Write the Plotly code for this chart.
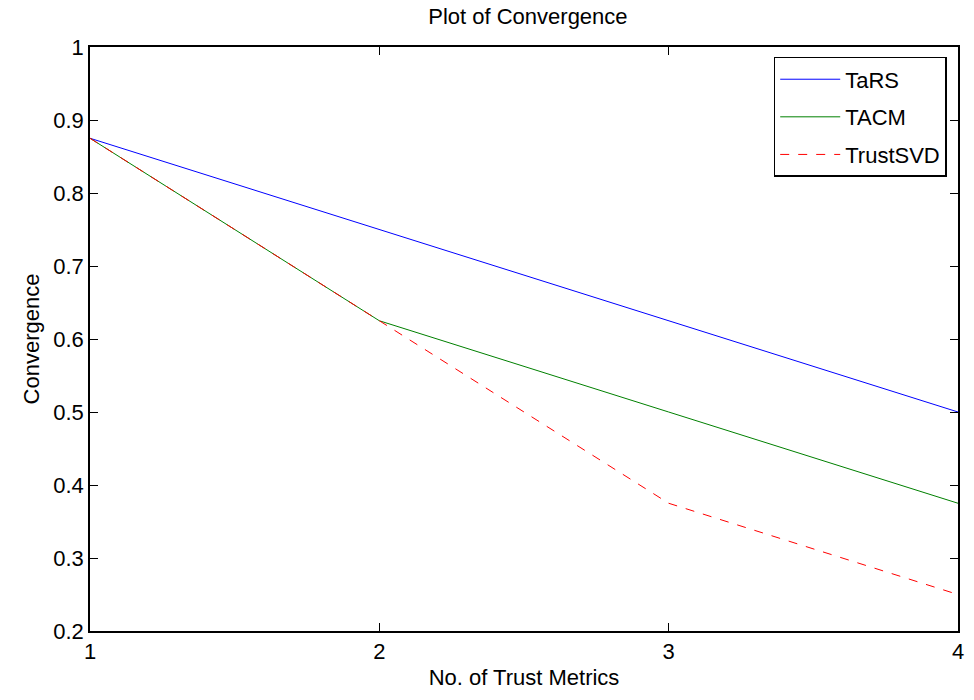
import plotly.graph_objects as go

x_vals = [1, 2, 3, 4]
tars = [0.875, 0.75, 0.625, 0.5]
tacm = [0.875, 0.625, 0.5, 0.375]
trustsvd = [0.875, 0.625, 0.375, 0.25]

FONT = "Liberation Sans, Arial, Helvetica, sans-serif"
FS = 22

fig = go.Figure()
fig.add_trace(go.Scatter(x=x_vals, y=tars, mode="lines", name="TaRS", legendgroup="a",
                         line=dict(color="#0000ff", width=1)))
fig.add_trace(go.Scatter(x=x_vals, y=tacm, mode="lines", name="TACM", legendgroup="b",
                         line=dict(color="#008000", width=1)))
fig.add_trace(go.Scatter(x=x_vals, y=trustsvd, mode="lines", name="TrustSVD", legendgroup="c",
                         line=dict(color="#ff0000", width=1, dash="dash")))

axis_common = dict(showline=True, linecolor="black", linewidth=1.5, mirror="ticks",
                   ticks="inside", ticklen=8, tickcolor="black", showgrid=False,
                   zeroline=False, tickfont=dict(size=FS, color="black", family=FONT))

fig.update_layout(
    width=974, height=700,
    margin=dict(l=90, r=10, t=47, b=69),
    paper_bgcolor="white", plot_bgcolor="white",
    font=dict(family=FONT, color="black", size=FS),
    title=dict(text="Plot of Convergence", x=0.542, xanchor="center", y=0.988, yanchor="top",
               font=dict(size=FS, family=FONT, color="black")),
    xaxis=dict(range=[1, 4], tickvals=[1, 2, 3, 4], ticktext=["1", "2", "3", "4"],
               title=dict(text="No. of Trust Metrics", standoff=6, font=dict(size=FS)),
               **axis_common),
    yaxis=dict(range=[0.2, 1], tickvals=[0.2, 0.3, 0.4, 0.5, 0.6, 0.7, 0.8, 0.9, 1],
               ticktext=["0.2", "0.3", "0.4", "0.5", "0.6", "0.7", "0.8", "0.9", "1"],
               title=dict(text="Convergence", standoff=8, font=dict(size=FS)),
               **axis_common),
    legend=dict(x=0.987, y=0.983, xanchor="right", yanchor="top",
                bgcolor="white", bordercolor="black", borderwidth=1.5,
                font=dict(size=FS, family=FONT, color="black"),
                tracegroupgap=6, itemwidth=60),
    showlegend=True,
)

fig.write_html("out.html")
